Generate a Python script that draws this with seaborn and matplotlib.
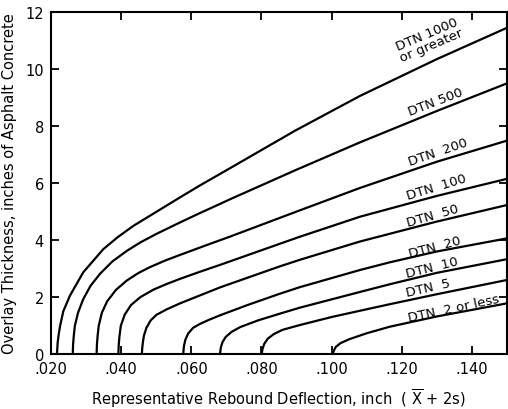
import matplotlib
matplotlib.use("Agg")
import matplotlib.pyplot as plt
import seaborn as sns
import pandas as pd

# ---- data (deflection in inches, overlay thickness in inches) ----
dtn1000_x = [.0217, .0219, .0222, .0226, .0235, .0254, .0292, .0349, .0390, .0435, .0568, .0625, .0710, .0896, .1081, .130, .150]
dtn1000_y = [0.0, 0.40, 0.70, 0.99, 1.50, 2.05, 2.87, 3.68, 4.10, 4.50, 5.50, 5.92, 6.52, 7.84, 9.06, 10.35, 11.45]

dtn500_x = [.0262, .0263, .0265, .0268, .0277, .0292, .0313, .0340, .0375, .0416, .0455, .0501, .0568, .0625, .0682, .0710, .0900, .1081, .130, .150]
dtn500_y = [0.0, 0.35, 0.65, 0.99, 1.45, 1.93, 2.40, 2.82, 3.25, 3.62, 3.92, 4.22, 4.62, 4.95, 5.27, 5.43, 6.47, 7.43, 8.53, 9.50]

dtn200_x = [.0330, .0331, .0333, .0336, .0345, .0360, .0385, .0416, .0450, .0482, .0525, .0568, .0625, .0710, .0900, .1081, .130, .150]
dtn200_y = [0.0, 0.35, 0.65, 0.99, 1.45, 1.85, 2.25, 2.58, 2.85, 3.05, 3.28, 3.48, 3.74, 4.12, 5.00, 5.83, 6.75, 7.49]

dtn100_x = [.0392, .0393, .0395, .0399, .0410, .0428, .0455, .0492, .0530, .0568, .0625, .0682, .0850, .0910, .1081, .130, .150]
dtn100_y = [0.0, 0.30, 0.60, 0.99, 1.38, 1.72, 2.00, 2.26, 2.46, 2.64, 2.89, 3.13, 3.86, 4.12, 4.82, 5.55, 6.15]

dtn50_x = [.0459, .0460, .0462, .0465, .0472, .0484, .0501, .0530, .0568, .0625, .0682, .0853, .0910, .1081, .130, .150]
dtn50_y = [0.0, 0.20, 0.42, 0.65, 0.92, 1.18, 1.38, 1.57, 1.78, 2.06, 2.34, 3.08, 3.31, 3.95, 4.65, 5.23]

dtn20_x = [.0577, .0578, .0579, .0583, .0591, .0605, .0625, .0650, .0682, .0760, .0853, .0910, .1081, .1166, .130, .150]
dtn20_y = [0.0, 0.15, 0.28, 0.50, 0.72, 0.92, 1.06, 1.20, 1.36, 1.72, 2.12, 2.35, 2.95, 3.22, 3.60, 4.06]

dtn10_x = [.0682, .0683, .0684, .0689, .0698, .0715, .0740, .0790, .0853, .0910, .1081, .1166, .130, .150]
dtn10_y = [0.0, 0.12, 0.22, 0.42, 0.60, 0.78, 0.95, 1.18, 1.42, 1.63, 2.18, 2.45, 2.85, 3.33]

dtn5_x = [.0801, .0802, .0803, .0808, .0818, .0835, .0860, .0910, .1000, .1081, .1166, .130, .150]
dtn5_y = [0.0, 0.10, 0.18, 0.36, 0.54, 0.70, 0.85, 1.02, 1.30, 1.52, 1.75, 2.10, 2.60]

dtn2_x = [.1004, .1005, .1007, .1012, .1025, .1050, .1100, .1166, .130, .150]
dtn2_y = [0.0, 0.07, 0.14, 0.25, 0.38, 0.52, 0.73, 0.96, 1.32, 1.78]

curve_names = ["DTN 1000", "DTN 500", "DTN 200", "DTN 100", "DTN 50",
               "DTN 20", "DTN 10", "DTN 5", "DTN 2"]
curve_x = [dtn1000_x, dtn500_x, dtn200_x, dtn100_x, dtn50_x, dtn20_x, dtn10_x, dtn5_x, dtn2_x]
curve_y = [dtn1000_y, dtn500_y, dtn200_y, dtn100_y, dtn50_y, dtn20_y, dtn10_y, dtn5_y, dtn2_y]

label_texts = ["DTN 1000\nor greater", "DTN 500", "DTN  200", "DTN  100", "DTN  50",
               "DTN  20", "DTN  10", "DTN  5", "DTN  2 or less"]
label_x = [.1278, .1297, .1303, .1300, .1289, .1295, .1286, .1275, .1349]
label_y = [11.05, 8.88, 7.12, 5.89, 4.88, 3.75, 3.05, 2.35, 1.62]
label_rot = [23, 21, 19, 17, 16, 15, 14, 13, 12]

x_ticks = [.020, .040, .060, .080, .100, .120, .140]
x_tick_labels = [".020", ".040", ".060", ".080", ".100", ".120", ".140"]
y_ticks = [0, 2, 4, 6, 8, 10, 12]

rows = []
for name, xs, ys in zip(curve_names, curve_x, curve_y):
    for i, (a, b) in enumerate(zip(xs, ys)):
        rows.append({"curve": name, "order": i, "x": a, "y": b})
df = pd.DataFrame(rows)

sns.set_theme(style="white")
plt.rcParams["font.family"] = ["DejaVu Sans"]
plt.rcParams["mathtext.default"] = "regular"

fig = plt.figure(figsize=(5.08, 4.10), dpi=100)
ax = fig.add_axes([0.1004, 0.134, 0.8976, 0.834])

sns.lineplot(data=df, x="x", y="y", hue="curve", units="curve", estimator=None,
             sort=False, palette=["black"] * len(curve_names), legend=False,
             linewidth=1.6, ax=ax)
for ln in ax.lines:
    ln.set_solid_joinstyle("round")
    ln.set_solid_capstyle("round")

ax.set_xlim(.020, .150)
ax.set_ylim(0, 12)
ax.set_xticks(x_ticks)
ax.set_xticklabels(x_tick_labels)
ax.set_yticks(y_ticks)
ax.tick_params(direction="in", length=6, width=1.3, labelsize=10.5, colors="black",
               top=True, right=True, bottom=True, left=True, pad=5)
for s in ax.spines.values():
    s.set_visible(True)
    s.set_color("black")
    s.set_linewidth(1.5)

ax.set_xlabel(r"Representative Rebound Deflection, inch  ( $\overline{X}$ + 2s)",
              fontsize=10.5, color="black")
ax.xaxis.set_label_coords(0.5, -0.095)
ax.set_ylabel("Overlay Thickness, inches of Asphalt Concrete", fontsize=10.5,
              labelpad=6, color="black")

for t, lx, ly, r in zip(label_texts, label_x, label_y, label_rot):
    ax.text(lx, ly, t, rotation=r, rotation_mode="anchor", ha="center", va="center",
            fontsize=9.5, color="black", linespacing=0.85)

fig.savefig("out.png", dpi=100)
